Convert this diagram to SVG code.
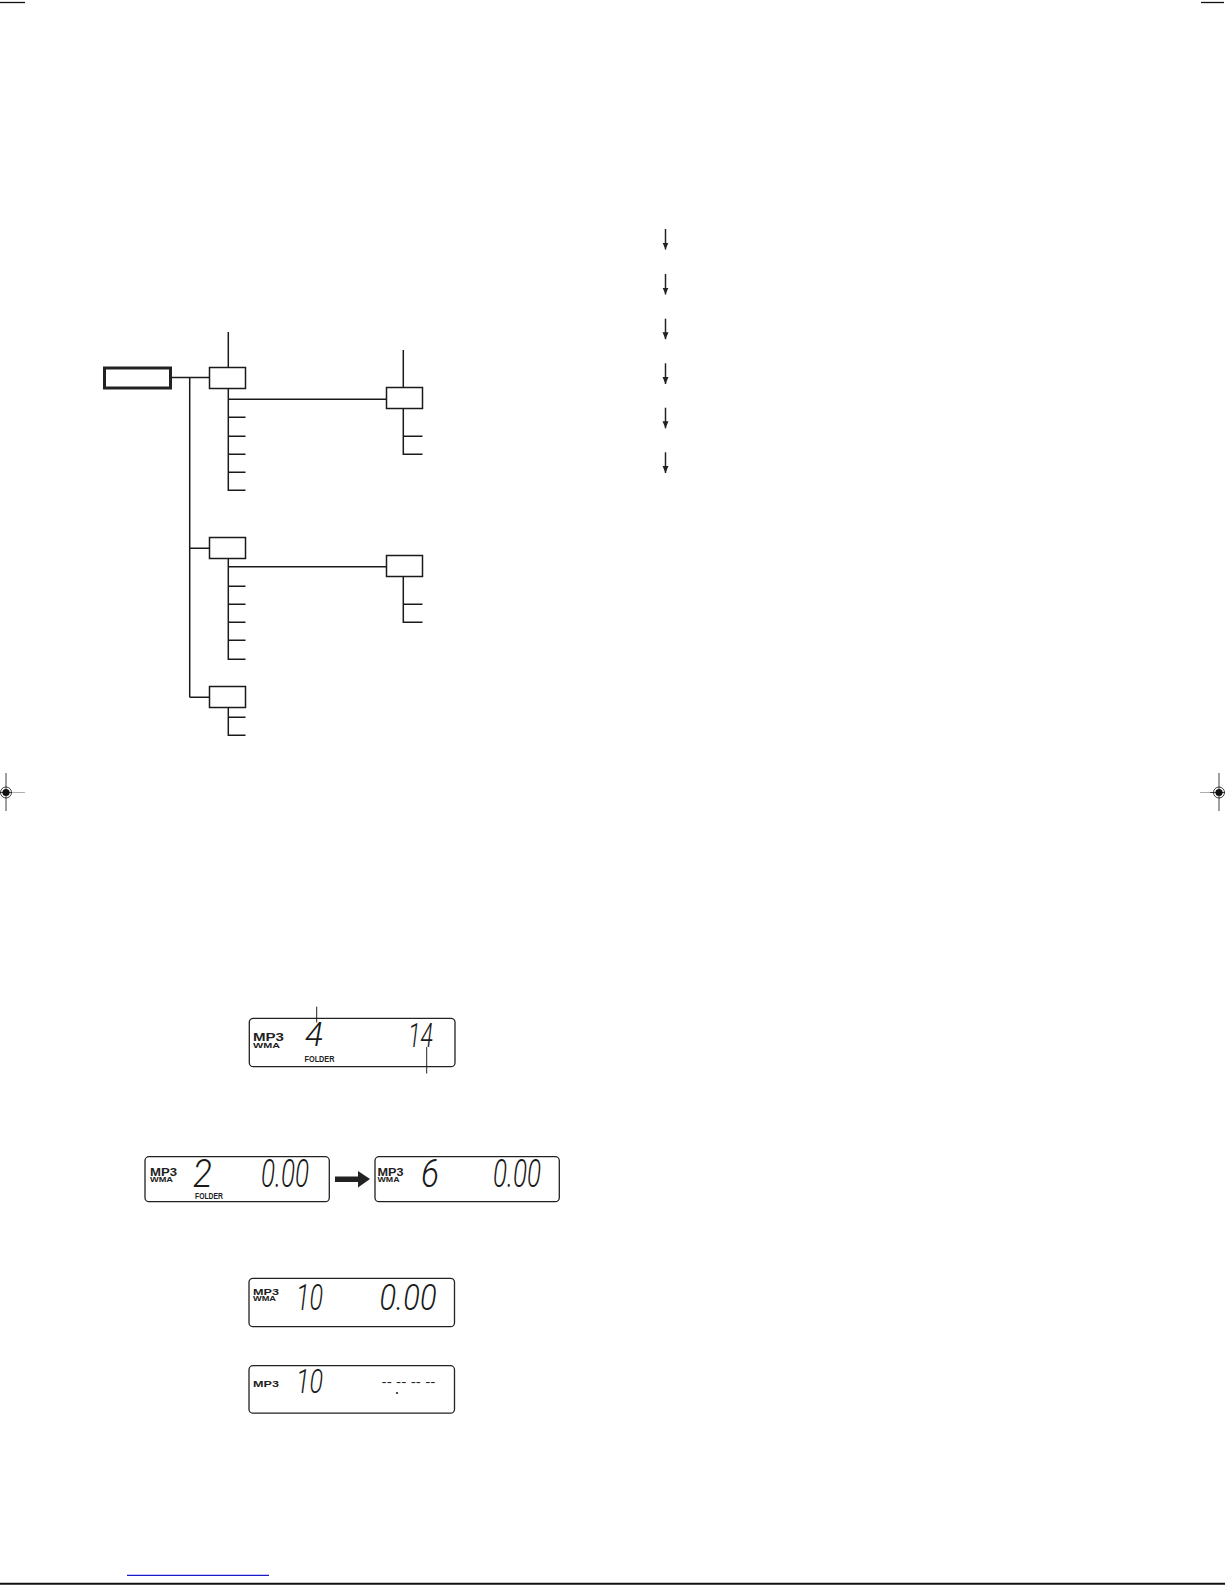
<svg xmlns="http://www.w3.org/2000/svg" width="1225" height="1585" viewBox="0 0 1225 1585">
<style>
.ln{fill:none;stroke:#1a1a1a;stroke-width:1.5}
.bx{fill:#fff;stroke:#1a1a1a;stroke-width:1.5}
.root{fill:#fff;stroke:#222;stroke-width:3}
.lcd{fill:#fff;stroke:#222;stroke-width:1.3}
.seg{font-family:Roboto,"Liberation Sans",sans-serif;font-weight:300;font-style:italic;fill:#1a1a1a}
.lbl{font-family:"Liberation Sans",sans-serif;font-weight:bold;fill:#222}
.fold{font-family:"Liberation Sans",sans-serif;font-weight:bold;font-style:normal;font-size:9px;fill:#222}
.thin{fill:none;stroke:#222;stroke-width:1}
</style>
<defs>
<marker id="ah" markerUnits="userSpaceOnUse" markerWidth="8" markerHeight="8" refX="7" refY="3" orient="auto">
<path d="M0,0 L7,3 L0,6 Z" fill="#222"/>
</marker>
</defs>
<rect width="1225" height="1585" fill="#fff"/>

<!-- page marks -->
<g id="page-marks">
<line x1="0" y1="2.5" x2="25" y2="2.5" stroke="#111" stroke-width="1.3"/>
<line x1="1201" y1="2.5" x2="1224" y2="2.5" stroke="#111" stroke-width="1.3"/>
<line x1="6" y1="773" x2="6" y2="811" stroke="#111" stroke-width="0.8"/>
<line x1="0" y1="792.5" x2="12" y2="792.5" stroke="#111" stroke-width="0.8"/>
<line x1="12" y1="792.5" x2="25" y2="792.5" stroke="#999" stroke-width="0.8"/>
<circle cx="6" cy="792.5" r="5.5" fill="none" stroke="#111" stroke-width="0.8"/>
<circle cx="6" cy="792.5" r="3.6" fill="#111"/>
<line x1="1219" y1="773" x2="1219" y2="811" stroke="#111" stroke-width="0.8"/>
<line x1="1210" y1="792.5" x2="1225" y2="792.5" stroke="#111" stroke-width="0.8"/>
<line x1="1200" y1="792.5" x2="1210" y2="792.5" stroke="#999" stroke-width="0.8"/>
<circle cx="1219" cy="792.5" r="5.5" fill="none" stroke="#111" stroke-width="0.8"/>
<circle cx="1219" cy="792.5" r="3.6" fill="#111"/>
<line x1="127" y1="1575.3" x2="269" y2="1575.3" stroke="#1a1acc" stroke-width="1.2"/>
<line x1="0" y1="1583.8" x2="1225" y2="1583.8" stroke="#111" stroke-width="2"/>
</g>

<!-- tree connectors -->
<g id="connectors">
<path class="ln" d="M170.5 377.5 H209.5 M189.7 377.5 V697.3 M189.7 548.3 H209.5 M189.7 697.3 H209.5"/>
<path class="ln" d="M228.3 332 V367.5 M228.3 388.5 V490.3 H245.5 M228.3 417.3 H245.5 M228.3 436.3 H245.5 M228.3 454.3 H245.5 M228.3 472.3 H245.5 M228.3 399.3 H386.5"/>
<path class="ln" d="M403.3 350 V387.5 M403.3 408.5 V454.3 H422.5 M403.3 436.3 H422.5"/>
<path class="ln" d="M228.3 558.5 V659.3 H245.5 M228.3 586.3 H245.5 M228.3 604.3 H245.5 M228.3 622.3 H245.5 M228.3 640.3 H245.5 M228.3 566.7 H386.5"/>
<path class="ln" d="M403.3 576.5 V622.3 H422.5 M403.3 604.3 H422.5"/>
<path class="ln" d="M228.3 707.5 V735.3 H245.5 M228.3 717.3 H245.5"/>
<g stroke="#222" stroke-width="1.5" marker-end="url(#ah)">
<line x1="665.5" y1="229" x2="665.5" y2="249.5"/>
<line x1="665.5" y1="274" x2="665.5" y2="294.5"/>
<line x1="665.5" y1="318.7" x2="665.5" y2="339.2"/>
<line x1="665.5" y1="363.3" x2="665.5" y2="384"/>
<line x1="665.5" y1="407.7" x2="665.5" y2="428.3"/>
<line x1="665.5" y1="452.3" x2="665.5" y2="473"/>
</g>
</g>

<!-- tree nodes -->
<g id="root"><rect class="root" x="104.5" y="368" width="66" height="20"/></g>
<g id="folder1"><rect class="bx" x="209.5" y="367.5" width="36" height="21"/></g>
<g id="subfolder1"><rect class="bx" x="386.5" y="387.5" width="36" height="21"/></g>
<g id="folder2"><rect class="bx" x="209.5" y="537.5" width="36" height="21"/></g>
<g id="subfolder2"><rect class="bx" x="386.5" y="555.5" width="36" height="21"/></g>
<g id="folder3"><rect class="bx" x="209.5" y="686.5" width="36" height="21"/></g>

<!-- display 1 -->
<g id="display1">
<rect class="lcd" x="249.3" y="1018.3" width="205.7" height="48.4" rx="4"/>
<text class="lbl"><tspan x="253" y="1041.2" font-size="10.5" textLength="31" lengthAdjust="spacingAndGlyphs">MP3</tspan><tspan x="253" y="1048.3" font-size="8" textLength="27" lengthAdjust="spacingAndGlyphs">WMA</tspan></text>
<text class="seg" x="305" y="1045.5" font-size="34" textLength="18" lengthAdjust="spacingAndGlyphs">4</text>
<text class="seg" x="408" y="1046.5" font-size="34" textLength="25" lengthAdjust="spacingAndGlyphs">14</text>
<text class="fold" x="304.5" y="1061.7" textLength="30" lengthAdjust="spacingAndGlyphs">FOLDER</text>
<path class="thin" d="M316.7 1006.7 V1022.5 M426.7 1047 V1073.5"/>
</g>

<!-- display 2 -->
<g id="display2a">
<rect class="lcd" x="145" y="1156.7" width="184.3" height="45" rx="4"/>
<text class="lbl"><tspan x="150" y="1175.5" font-size="10" textLength="27" lengthAdjust="spacingAndGlyphs">MP3</tspan><tspan x="150" y="1182" font-size="8" textLength="23" lengthAdjust="spacingAndGlyphs">WMA</tspan></text>
<text class="seg"><tspan x="193" y="1186.5" font-size="39" textLength="19" lengthAdjust="spacingAndGlyphs">2</tspan><tspan class="fold" x="195" y="1198.5" textLength="28" lengthAdjust="spacingAndGlyphs">FOLDER</tspan></text>
<text class="seg" x="261" y="1186.5" font-size="39" textLength="48" lengthAdjust="spacingAndGlyphs">0.00</text>
</g>
<g id="arrow2"><path d="M335 1176.5 H358 V1171 L370 1179 L358 1187.5 V1182 H335 Z" fill="#222"/></g>
<g id="display2b">
<rect class="lcd" x="375" y="1156.7" width="184.3" height="45" rx="4"/>
<text class="lbl"><tspan x="377.5" y="1175.5" font-size="10" textLength="26" lengthAdjust="spacingAndGlyphs">MP3</tspan><tspan x="377.5" y="1182" font-size="8" textLength="22" lengthAdjust="spacingAndGlyphs">WMA</tspan></text>
<text class="seg" x="421" y="1186.5" font-size="39" textLength="18" lengthAdjust="spacingAndGlyphs">6</text>
<text class="seg" x="493" y="1186.5" font-size="39" textLength="48" lengthAdjust="spacingAndGlyphs">0.00</text>
</g>

<!-- display 3 -->
<g id="display3">
<rect class="lcd" x="249" y="1278.3" width="205.5" height="48.4" rx="4"/>
<text class="lbl"><tspan x="253" y="1294.5" font-size="9.5" textLength="26" lengthAdjust="spacingAndGlyphs">MP3</tspan><tspan x="253" y="1300.5" font-size="7.5" textLength="23" lengthAdjust="spacingAndGlyphs">WMA</tspan></text>
<text class="seg" x="296" y="1310" font-size="37" textLength="27" lengthAdjust="spacingAndGlyphs">10</text>
<text class="seg" x="379.5" y="1310" font-size="37" textLength="57" lengthAdjust="spacingAndGlyphs">0.00</text>
</g>

<!-- display 4 -->
<g id="display4">
<rect class="lcd" x="249" y="1365.7" width="205.5" height="47.5" rx="4"/>
<text class="lbl" x="253" y="1387" font-size="9.5" textLength="26" lengthAdjust="spacingAndGlyphs">MP3</text>
<text class="seg" x="296" y="1393" font-size="33" textLength="27" lengthAdjust="spacingAndGlyphs">10</text>
<text x="381.5" y="1386" font-family="Liberation Sans,sans-serif" font-size="12" fill="#222" textLength="54" lengthAdjust="spacingAndGlyphs">-- -- -- --</text>
<circle cx="397" cy="1393" r="1.1" fill="#222"/>
</g>
</svg>
